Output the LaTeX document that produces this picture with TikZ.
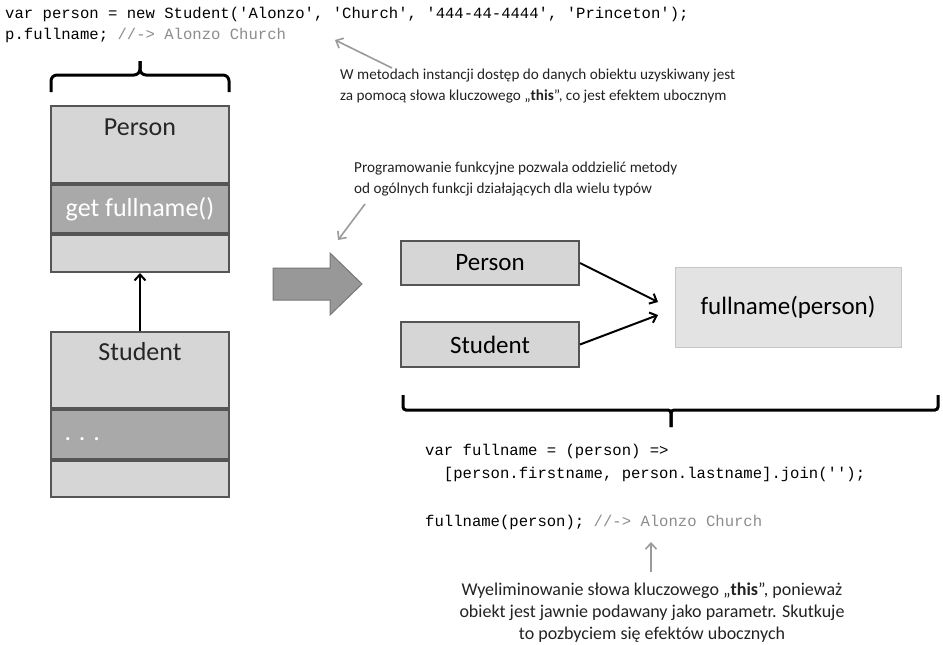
\documentclass[tikz,border=0pt]{standalone}
\usepackage{fontspec}
\setmainfont{Carlito}
\setmonofont{Liberation Mono}
\usepackage{xcolor}
\usepackage{tikz}
\usetikzlibrary{arrows.meta,positioning}

\definecolor{boxlight}{HTML}{D6D6D6}
\definecolor{boxdark}{HTML}{A9A9A9}
\definecolor{boxline}{HTML}{555555}
\definecolor{funfill}{HTML}{E3E3E3}
\definecolor{funline}{HTML}{C6C6C6}
\definecolor{notegray}{HTML}{9A9A9A}
\definecolor{codegray}{HTML}{8C8C8C}
\definecolor{notetext}{HTML}{222222}

\begin{document}
\begin{tikzpicture}[x=1pt,y=-1pt,
	sec/.style={draw=boxline,line width=2pt,fill=boxlight,minimum width=178pt,inner sep=0pt},
	secdark/.style={sec,fill=boxdark},
	title/.style={font=\fontsize{26}{30}\selectfont,text=black!85},
	small/.style={draw=boxline,line width=2pt,fill=boxlight,minimum width=178pt,minimum height=44pt,font=\fontsize{25}{30}\selectfont},
	code/.style={anchor=base west,inner sep=0pt,font=\fontsize{15.6}{18}\ttfamily},
	note/.style={inner sep=0pt,font=\fontsize{15.2}{21.5}\selectfont,text=notetext},
	arr/.style={line width=2pt,-{Straight Barb[length=6pt,width=11pt]}},
	notearr/.style={draw=notegray,line width=1.6pt,-{Straight Barb[length=6pt,width=11pt]}},
	bracket/.style={line width=3pt,rounded corners=6pt}]
	\useasboundingbox (0,0) rectangle (943,645);
	% code at the top
	\node[code] (line1) at (5,18) {var person = new Student('Alonzo', 'Church', '444-44-4444', 'Princeton');};
	\node[code] (line2) at (5,39) {p.fullname; \textcolor{codegray}{//-> Alonzo Church}};
	\node[note,anchor=west,align=left] (note1) at (340,86) {W metodach instancji dostęp do danych obiektu uzyskiwany jest\\za pomocą słowa kluczowego „\textbf{this}”, co jest efektem ubocznym};
	\coordinate (n1tail) at (392,68);
	\coordinate (n1tip) at (335,40);
	\draw[notearr] (n1tail) -- (n1tip);
	% class boxes
	\draw[bracket] (51,92) |- (140,75) -- (140,61);
	\draw[bracket] (229,92) |- (140,75) -- (140,61);
	\node[sec,minimum height=77pt] (pa) at (140,144.5) {};
	\node[secdark,minimum height=48pt,below=0pt of pa] (pb) {};
	\node[sec,minimum height=37pt,below=0pt of pb] (pc) {};
	\node[title] (ptitle) at (140,127) {Person};
	\node[title,text=white] (pget) at (pb) {get fullname()};
	\node[sec,minimum height=76pt] (sa) at (140,370) {};
	\node[secdark,minimum height=49pt,below=0pt of sa] (sb) {};
	\node[sec,minimum height=36pt,below=0pt of sb] (sc) {};
	\node[title] (stitle) at (140,352) {Student};
	\node[title,text=white,anchor=west] (sdots) at (61,439) {. . .};
	\draw[arr] (sa.north) -- (pc.south);
	% big arrow
	\filldraw[fill=boxdark!90!black,draw=boxline!80,line width=1pt] (273,268) -- (330,268) -- (330,253) -- (362,284) -- (330,315) -- (330,300) -- (273,300) -- cycle;
	% functional side
	\node[note,anchor=west,align=left] (note2) at (354,179) {Programowanie funkcyjne pozwala oddzielić metody\\od ogólnych funkcji działających dla wielu typów};
	\coordinate (n2tail) at (365,204);
	\coordinate (n2tip) at (338,240);
	\draw[notearr] (n2tail) -- (n2tip);
	\node[small] (rperson) at (490,263) {Person};
	\node[small,minimum height=45pt] (rstudent) at (490,344.5) {Student};
	\node[draw=funline,line width=1pt,fill=funfill,minimum width=226pt,minimum height=80pt,font=\fontsize{25}{30}\selectfont] (fname) at (788,307) {fullname(person)};
	\coordinate (pin) at (658,302);
	\coordinate (sin) at (658,315);
	\draw[arr] (rperson.east) -- (pin);
	\draw[arr] (rstudent.east) -- (sin);
	\draw[bracket,rounded corners=3pt] (403,395) |- (671,410) -- (671,427);
	\draw[bracket,rounded corners=3pt] (938,395) |- (671,410) -- (671,427);
	% code below
	\node[code] (line3) at (425,455) {var fullname = (person) =>};
	\node[code] (line4) at (425,478) {~~[person.firstname, person.lastname].join('');};
	\node[code] (line5) at (425,526) {fullname(person); \textcolor{codegray}{//-> Alonzo Church}};
	\coordinate (n3tail) at (651,572);
	\coordinate (n3tip) at (651,542);
	\draw[notearr] (n3tail) -- (n3tip);
	\node[note,align=center,font=\fontsize{18}{22}\selectfont] (note3) at (652,613) {Wyeliminowanie słowa kluczowego „\textbf{this}”, ponieważ\\obiekt jest jawnie podawany jako parametr. Skutkuje\\to pozbyciem się efektów ubocznych};
\end{tikzpicture}
\end{document}
